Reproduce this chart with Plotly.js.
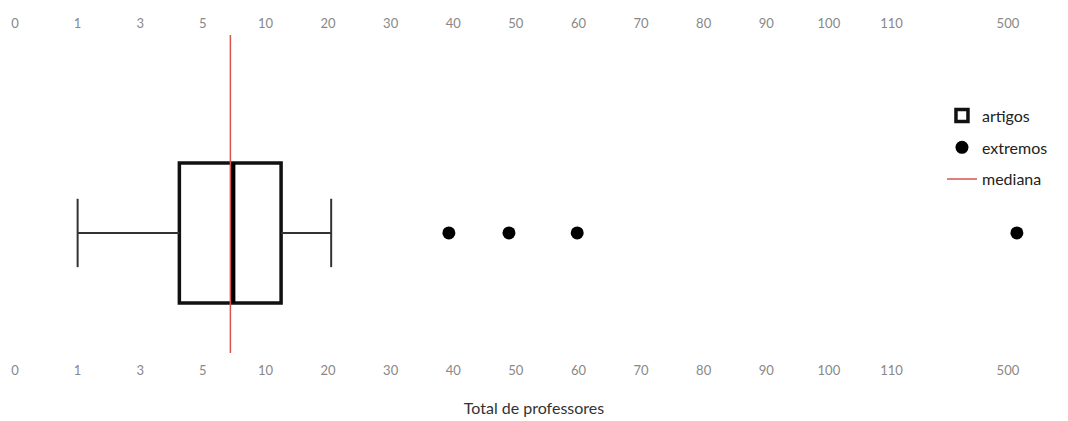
<!DOCTYPE html>
<html>
<head>
<meta charset="utf-8">
<script src="https://cdn.plot.ly/plotly-3.0.1.min.js"></script>
<style>html,body{margin:0;padding:0;background:#fff;}#chart{width:1068px;height:421px;}</style>
</head>
<body>
<div id="chart"></div>
<script>
// Axis tick labels (non-linear, equally spaced on the chart)
const tickLabels = ["0","1","3","5","10","20","30","40","50","60","70","80","90","100","110","500"];
const tickValues = [0,1,3,5,10,20,30,40,50,60,70,80,90,100,110,500];

// Box statistics for "artigos"
const lowerWhisker = 1;
const q1 = 4.25;
const boxMedian = 7.4;
const q3 = 12.5;
const upperWhisker = 20.5;

// Extreme values ("extremos")
const extremes = [39.3, 48.9, 59.8, 530];

// Median reference line ("mediana")
const medianLine = 7.2;

// Equal spacing for the tick labels, except the 500 gap
const tickSlots = [0,1,2,3,4,5,6,7,8,9,10,11,12,13,14,15.86];

function toAxis(v) {
  for (let i = 0; i < tickValues.length - 1; i++) {
    if (v <= tickValues[i+1] || i === tickValues.length - 2) {
      const t = (v - tickValues[i]) / (tickValues[i+1] - tickValues[i]);
      return tickSlots[i] + t * (tickSlots[i+1] - tickSlots[i]);
    }
  }
}

const yRange = [-0.755, 1.245];
const font = "Lato, 'Open Sans', sans-serif";
const capHalf = 0.215;

const lw = toAxis(lowerWhisker), uw = toAxis(upperWhisker);
const traces = [
  {
    type: "box", orientation: "h", name: "artigos", legendgroup: "a",
    y0: 0, width: 0.88,
    q1: [toAxis(q1)], median: [toAxis(boxMedian)], q3: [toAxis(q3)],
    lowerfence: [toAxis(q1)], upperfence: [toAxis(q3)],
    fillcolor: "rgba(255,255,255,0)",
    line: {color: "#111", width: 3.5},
    whiskerwidth: 0,
    hoverinfo: "skip"
  },
  {
    type: "scatter", mode: "lines", showlegend: false,
    x: [lw, toAxis(q1), null, toAxis(q3), uw, null, lw, lw, null, uw, uw],
    y: [0, 0, null, 0, 0, null, -capHalf, capHalf, null, -capHalf, capHalf],
    line: {color: "#333", width: 2}, hoverinfo: "skip"
  },
  {
    type: "scatter", mode: "lines", showlegend: false,
    x: [toAxis(boxMedian), toAxis(boxMedian)], y: [-0.44, 0.44],
    line: {color: "#000", width: 5}, hoverinfo: "skip"
  },
  {
    type: "scatter", mode: "markers", name: "extremos", legendgroup: "b",
    x: extremes.map(toAxis), y: extremes.map(() => 0),
    marker: {color: "#000", size: 13, symbol: "circle"}
  },
  {
    type: "scatter", mode: "lines", name: "mediana", legendgroup: "c",
    x: [toAxis(medianLine), toAxis(medianLine)], y: yRange,
    line: {color: "#d9534f", width: 1.5}
  }
];

const xr = [-0.24, 16.82];
const layout = {
  width: 1068, height: 421,
  margin: {l: 0, r: 0, t: 35, b: 68},
  paper_bgcolor: "#fff", plot_bgcolor: "#fff",
  font: {family: font, color: "#333"},
  showlegend: true,
  legend: {
    x: 0.882, y: 0.80, xanchor: "left", yanchor: "top",
    font: {size: 16, color: "#222", family: font},
    bgcolor: "rgba(0,0,0,0)", tracegroupgap: 8, itemwidth: 30
  },
  xaxis: {
    range: xr, tickmode: "array", tickvals: tickSlots, ticktext: tickLabels,
    showgrid: false, zeroline: false, showline: false, ticks: "",
    ticklabelstandoff: 8,
    tickfont: {size: 13, color: "#888", family: font},
    title: {text: "Total de professores", font: {size: 16, color: "#333", family: font}, standoff: 25}
  },
  xaxis2: {
    range: xr, overlaying: "x", side: "top", anchor: "y",
    tickmode: "array", tickvals: tickSlots, ticktext: tickLabels,
    showgrid: false, zeroline: false, showline: false, ticks: "",
    ticklabelstandoff: 3,
    tickfont: {size: 13, color: "#888", family: font}
  },
  yaxis: {range: yRange, showgrid: false, zeroline: false, showline: false, showticklabels: false, ticks: ""}
};
// invisible trace to bind the top axis
traces.push({type: "scatter", x: [xr[0]], y: [yRange[0]], xaxis: "x2", mode: "markers", marker: {opacity: 0}, showlegend: false, hoverinfo: "skip"});

Plotly.newPlot("chart", traces, layout, {displayModeBar: false, staticPlot: true});
</script>
</body>
</html>
